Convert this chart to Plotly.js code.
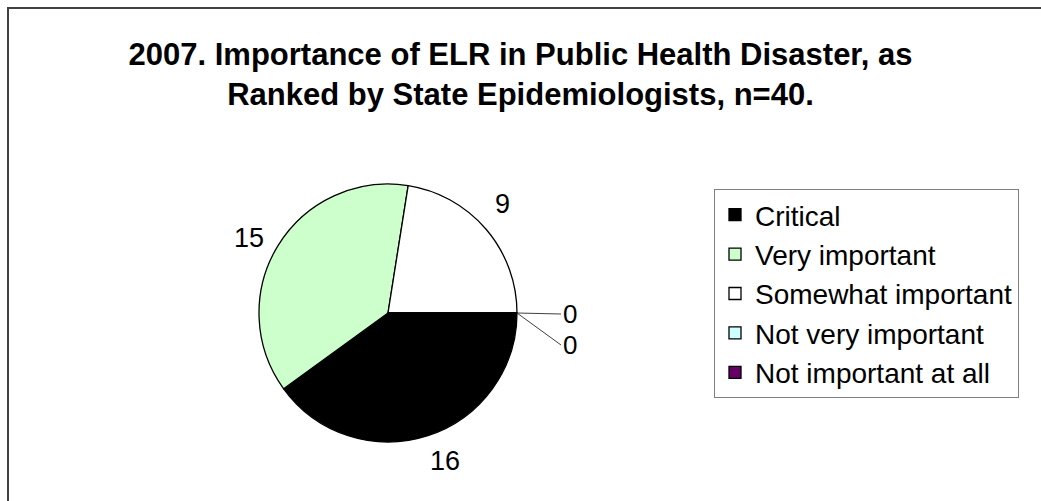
<!DOCTYPE html>
<html>
<head>
<meta charset="utf-8">
<script src="https://cdn.plot.ly/plotly-3.0.1.min.js"></script>
<style>
  html, body { margin: 0; padding: 0; background: #fff; }
  #chart { width: 1041px; height: 501px; }
</style>
</head>
<body>
<div id="chart"></div>
<script>
    var labels = ['Critical', 'Very important', 'Somewhat important', 'Not very important', 'Not important at all'];
    var counts = [16, 15, 9, 0, 0];
    var colors = ['#000000', '#CCFFCC', '#FFFFFF', '#CCFFFF', '#660066'];

    var W = 1041, H = 501;
    // pie centre and radius in pixels
    var cx = 388, cy = 313, r = 129;
    var rotation = 90;

    var total = counts.reduce(function (a, b) { return a + b; }, 0);

    // point on a circle of radius rad, at angle (degrees clockwise from 12 o'clock), in paper coords
    function polar(angle, rad) {
        var a = angle * Math.PI / 180;
        return { x: (cx + rad * Math.sin(a)) / W, y: (H - cy + rad * Math.cos(a)) / H };
    }

    var annotations = [];
    var cum = 0, zeroIdx = 0;
    counts.forEach(function (v) {
        var start = rotation + 360 * cum / total;
        var mid = rotation + 360 * (cum + v / 2) / total;
        if (v > 0) {
            var p = polar(mid - 3, r + 29);
            annotations.push({
                x: p.x, y: p.y, xref: 'paper', yref: 'paper',
                text: String(v), showarrow: false,
                xanchor: 'center', yanchor: 'middle',
                font: { size: 27, color: '#000' }
            });
        } else {
            // zero slices sit on the start edge; label them off to the side with a leader line
            var e = polar(start, r);
            annotations.push({
                x: e.x, y: e.y, xref: 'paper', yref: 'paper',
                text: String(v), showarrow: true, arrowhead: 0,
                arrowwidth: 1, arrowcolor: '#404040',
                ax: 44, ay: 1 + 31 * zeroIdx,
                xanchor: 'left', yanchor: 'middle',
                font: { size: 26, color: '#000' }
            });
            zeroIdx++;
        }
        cum += v;
    });

    var trace = {
        type: 'pie',
        labels: labels,
        values: counts,
        sort: false,
        direction: 'clockwise',
        rotation: rotation,
        textinfo: 'none',
        marker: { colors: colors, line: { color: '#000', width: 1.3 } },
        domain: {
            x: [(cx - r) / W, (cx + r) / W],
            y: [(H - cy - r) / H, (H - cy + r) / H]
        },
        hoverinfo: 'label+value'
    };

    var layout = {
        width: W,
        height: H,
        margin: { l: 0, r: 0, t: 0, b: 0 },
        paper_bgcolor: '#fff',
        font: { family: 'Liberation Sans, Arial, sans-serif', color: '#000' },
        title: {
            text: '<b>2007. Importance of ELR in Public Health Disaster, as<br>Ranked by State Epidemiologists, n=40.</b>',
            font: { size: 31, color: '#000' },
            x: 0.5,
            xanchor: 'center',
            y: 1 - 65 / H,
            yanchor: 'top',
            yref: 'container'
        },
        showlegend: true,
        legend: {
            x: 714 / W,
            y: 1 - 189 / H,
            xanchor: 'left',
            yanchor: 'top',
            bgcolor: '#fff',
            bordercolor: '#808080',
            borderwidth: 1,
            font: { size: 28, color: '#000' },
            traceorder: 'normal'
        },
        annotations: annotations,
        shapes: [{
            type: 'rect', xref: 'paper', yref: 'paper',
            x0: 8 / W, x1: 1.05, y0: -0.05, y1: 1 - 8 / H,
            line: { color: '#404040', width: 2 }
        }]
    };

    Plotly.newPlot(document.getElementById('chart'), [trace], layout, { displayModeBar: false });
</script>
</body>
</html>
